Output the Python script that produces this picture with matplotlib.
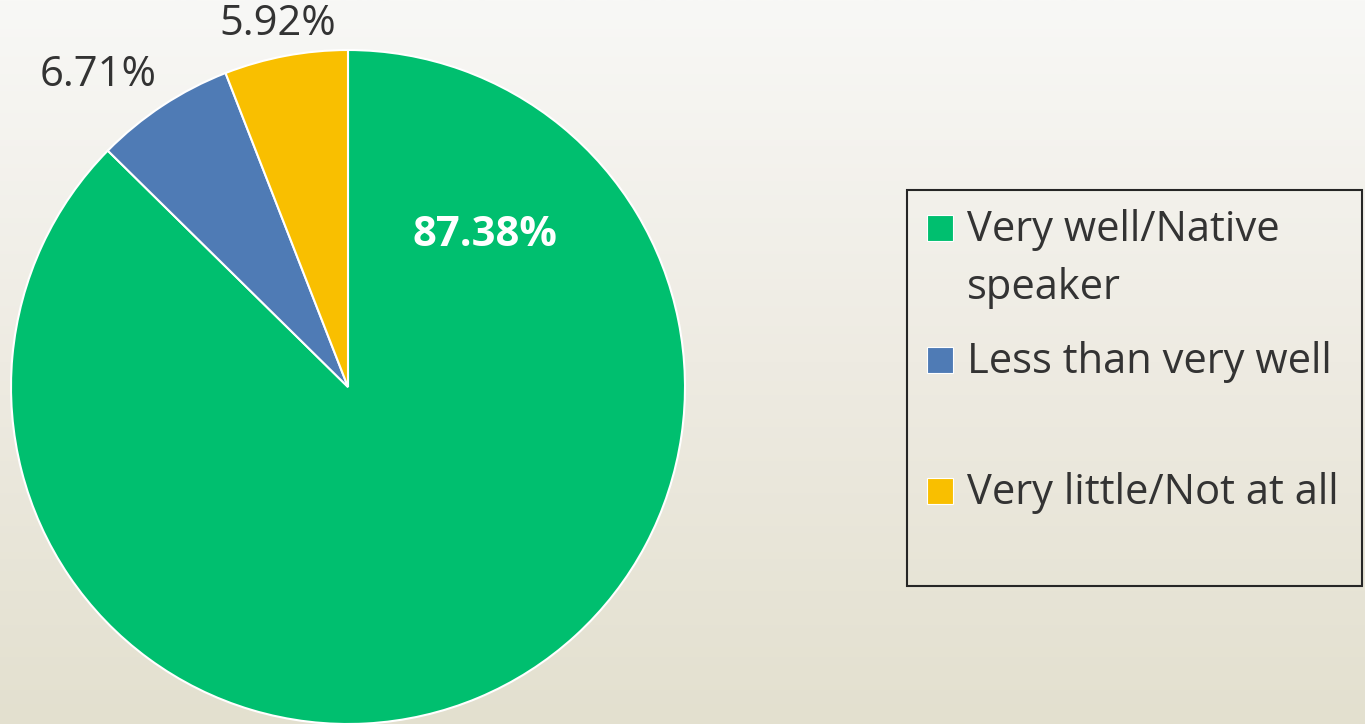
import numpy as np
import matplotlib.pyplot as plt
from matplotlib.colors import LinearSegmentedColormap
from matplotlib.patches import Rectangle

# share of respondents by self-rated English ability
categories = ["Very well/Native speaker", "Less than very well", "Very little/Not at all"]
legend_text = ["Very well/Native\nspeaker", "Less than very well", "Very little/Not at all"]
shares = [87.38, 6.71, 5.92]
colors = ["#00BF6F", "#4F7BB5", "#F9BF00"]

W, H = 1365, 724
plt.rcParams["font.family"] = ["Open Sans", "DejaVu Sans"]

fig = plt.figure(figsize=(W / 100, H / 100), dpi=100)
ax = fig.add_axes([0, 0, 1, 1])

# soft vertical gradient background
bg = LinearSegmentedColormap.from_list("bg", ["#E3E0CF", "#EEEBE2", "#F8F8F6"])
grad = np.linspace(0, 1, 256).reshape(-1, 1)
ax.imshow(grad, extent=(0, W, 0, H), origin="lower", cmap=bg, aspect="auto", zorder=0)

cx, cy, r = 348, H - 387, 337
wedges, _ = ax.pie(
    shares,
    colors=colors,
    startangle=90,
    counterclock=False,
    center=(cx, cy),
    radius=r,
    wedgeprops=dict(edgecolor="white", linewidth=1.5),
    frame=True,
)
for w in wedges:
    w.set_zorder(2)

txt = "#333333"
ax.text(485, H - 236, f"{shares[0]:.2f}%", color="white", fontsize=30,
        fontweight="bold", ha="center", va="center", zorder=3)
ax.text(98, H - 75, f"{shares[1]:.2f}%", color=txt, fontsize=30,
        ha="center", va="center", zorder=3)
ax.text(278, H - 24, f"{shares[2]:.2f}%", color=txt, fontsize=30,
        ha="center", va="center", zorder=3)

# legend drawn by hand to keep Excel's uneven spacing
ax.add_patch(Rectangle((907, H - 586), 455, 396, fill=False,
                       edgecolor="#262626", linewidth=1.5, zorder=3))
baselines = [241, 373, 504]
for lab, col, yb in zip(legend_text, colors, baselines):
    ax.add_patch(Rectangle((927, H - yb), 26, 26, facecolor=col,
                           edgecolor="white", linewidth=0.8, zorder=3))
    for i, line in enumerate(lab.split("\n")):
        ax.text(967, H - yb - 58 * i, line, color=txt, fontsize=30,
                ha="left", va="baseline", zorder=3)

ax.set_xlim(0, W)
ax.set_ylim(0, H)
ax.set_aspect("equal")
ax.axis("off")

fig.savefig("out.png", dpi=100)
